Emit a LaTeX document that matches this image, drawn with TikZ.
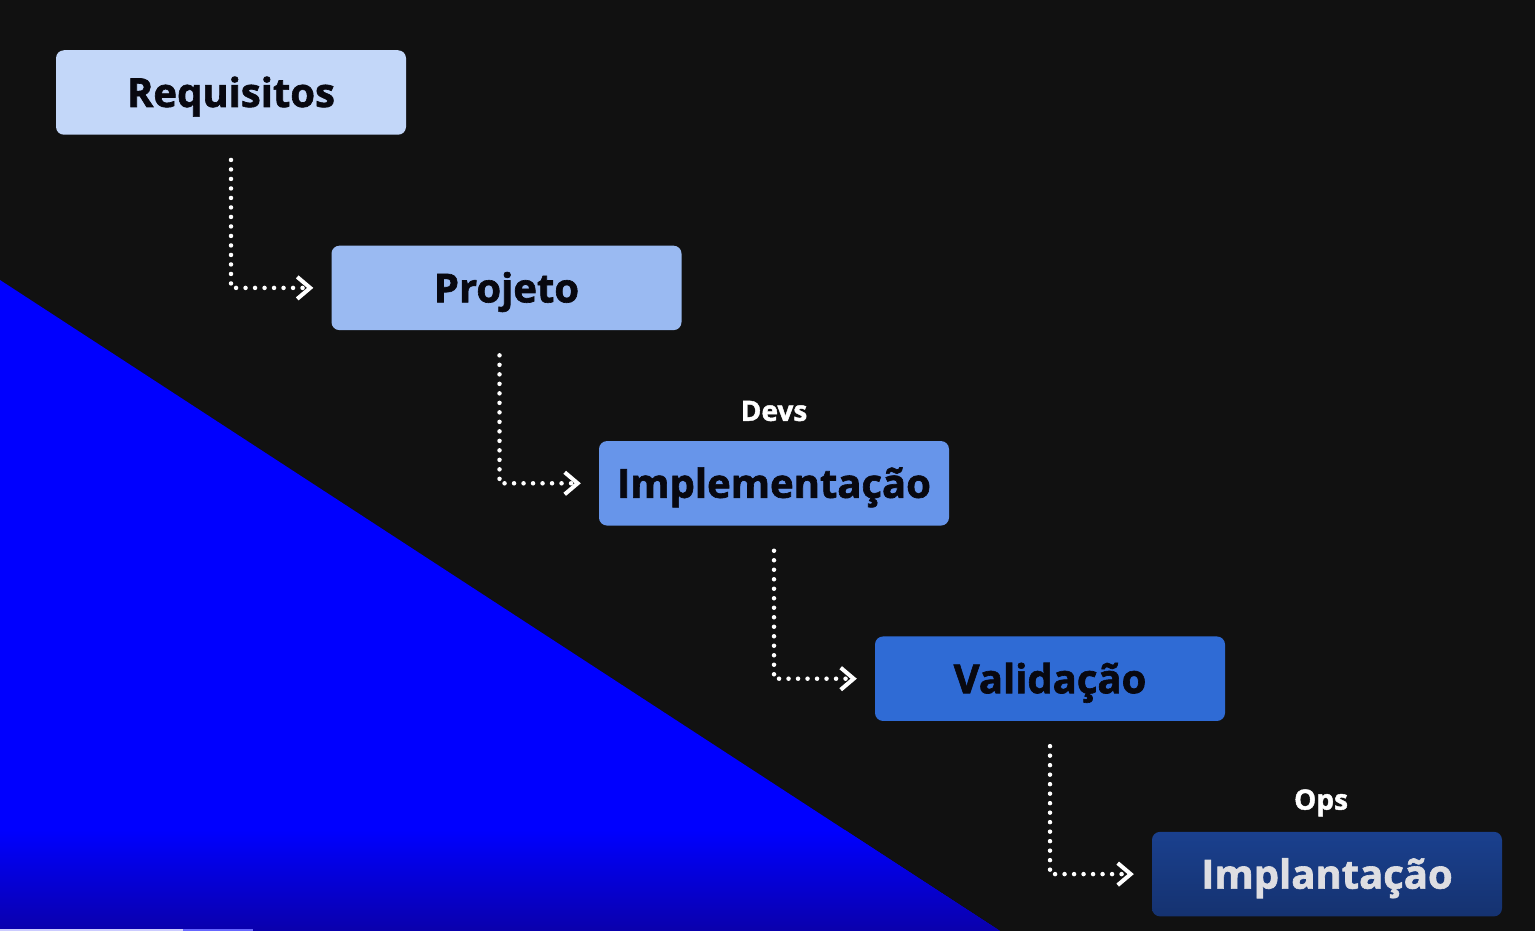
\documentclass[tikz,border=0pt]{standalone}
\usepackage{fontspec}
\setmainfont{Open Sans}[BoldFeatures={FakeBold=1.6}]
\usetikzlibrary{positioning, arrows.meta}
\definecolor{bg}{RGB}{17,17,17}
\definecolor{wedge}{RGB}{0,0,255}
\definecolor{wedgedark}{RGB}{10,0,172}
\definecolor{reqfill}{RGB}{195,215,249}
\definecolor{projfill}{RGB}{154,186,242}
\definecolor{implfill}{RGB}{103,149,234}
\definecolor{valfill}{RGB}{47,107,213}
\definecolor{deptop}{RGB}{26,64,142}
\definecolor{depbottom}{RGB}{21,50,112}
\definecolor{ink}{RGB}{8,8,16}
\definecolor{pale}{RGB}{222,222,226}
\tikzstyle{stage} = [rectangle, rounded corners=8pt,
minimum width=350pt, minimum height=84.5pt,
inner sep=0pt, text height=29pt, text depth=0pt,
font=\fontsize{40}{40}\selectfont\bfseries, text=ink]
\tikzstyle{tag} = [inner sep=0pt, text=white,
font=\fontsize{28}{28}\selectfont\bfseries]
\tikzstyle{flow} = [white, line width=4.5pt, line cap=round,
dash pattern=on 0pt off 9.5pt,
-{Straight Barb[length=13pt, width=22pt, line width=4pt]}]

\begin{document}
\begin{tikzpicture}[x=1pt, y=-1pt, node distance=110.5pt]
    \fill [bg] (0,0) rectangle (1535,931);
    \useasboundingbox (0,0) rectangle (1535,931);
    % blue wedge, darker near the bottom
    \fill [wedge] (0,280) -- (1000,931) -- (0,931) -- cycle;
    \begin{scope}
        \clip (0,280) -- (1000,931) -- (0,931) -- cycle;
        \shade [top color=wedge, bottom color=wedgedark] (0,830) rectangle (1000,931);
    \end{scope}
    \fill [white!80!wedge] (0,928.5) rectangle (183,931);
    \fill [white!40!wedge] (183,928.5) rectangle (253,931);

    \node (req) [stage, fill=reqfill] at (231,92.5)
        {Requisitos};
    \node (proj) [stage, fill=projfill, below=of req, xshift=275.5pt]
        {Projeto};
    \node (impl) [stage, fill=implfill, below=of proj, xshift=267.5pt]
        {Implementação};
    \node (val) [stage, fill=valfill, below=of impl, xshift=276pt]
        {Validação};
    \node (dep) [stage, top color=deptop, bottom color=depbottom,
        text=pale, below=of val, xshift=277pt]
        {Implantação};

    \node (devs) [tag, above=20pt of impl, anchor=base] {Devs};
    \node (ops) [tag, above=22pt of dep, anchor=base, xshift=-6pt] {Ops};

    \draw [flow] ([yshift=-25pt]req.south) |- ([xshift=-18pt]proj.west);
    \draw [flow] ([xshift=-7pt, yshift=-25pt]proj.south) |- ([xshift=-18pt]impl.west);
    \draw [flow] ([yshift=-25pt]impl.south) |- ([xshift=-18pt]val.west);
    \draw [flow] ([yshift=-25pt]val.south) |- ([xshift=-18pt]dep.west);
\end{tikzpicture}
\end{document}
